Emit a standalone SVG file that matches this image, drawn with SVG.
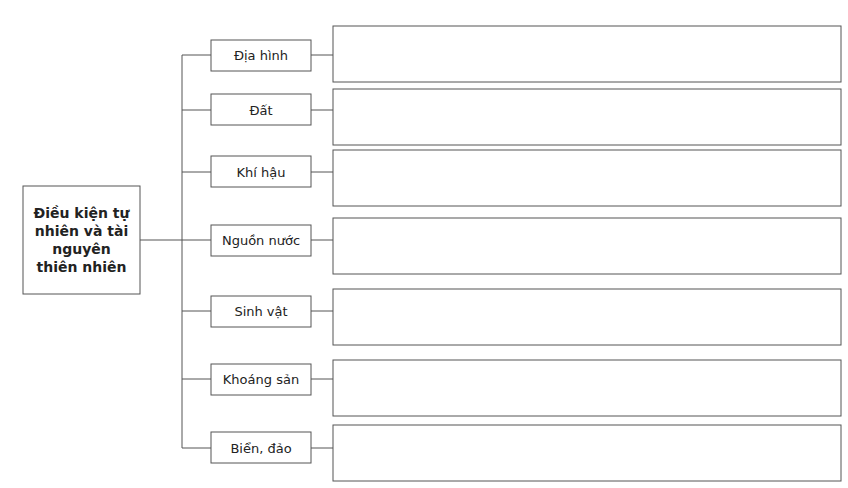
<svg xmlns="http://www.w3.org/2000/svg" width="848" height="488" viewBox="0 0 848 488">
<style>
rect{fill:#fff;stroke:#555;stroke-width:1}
line{stroke:#555;stroke-width:1}
text{font-family:"DejaVu Sans",sans-serif;font-size:13px;fill:#222;text-anchor:middle}
.b{font-weight:bold;font-size:14px}
</style>
<rect width="848" height="488" style="stroke:none"/>
<g id="connectors">
<line x1="140" y1="240" x2="182" y2="240"/>
<line x1="182" y1="55" x2="182" y2="448"/>
<line x1="182" y1="55" x2="211" y2="55"/><line x1="311" y1="55" x2="333" y2="55"/>
<line x1="182" y1="110" x2="211" y2="110"/><line x1="311" y1="110" x2="333" y2="110"/>
<line x1="182" y1="172" x2="211" y2="172"/><line x1="311" y1="172" x2="333" y2="172"/>
<line x1="182" y1="240" x2="211" y2="240"/><line x1="311" y1="240" x2="333" y2="240"/>
<line x1="182" y1="311" x2="211" y2="311"/><line x1="311" y1="311" x2="333" y2="311"/>
<line x1="182" y1="379" x2="211" y2="379"/><line x1="311" y1="379" x2="333" y2="379"/>
<line x1="182" y1="448" x2="211" y2="448"/><line x1="311" y1="448" x2="333" y2="448"/>
</g>
<g id="main"><rect x="23" y="186" width="117" height="108"/>
<text class="b" x="81.5" y="218">Điều kiện tự</text>
<text class="b" x="81.5" y="236">nhiên và tài</text>
<text class="b" x="81.5" y="254">nguyên</text>
<text class="b" x="81.5" y="272">thiên nhiên</text></g>
<g id="n1"><rect x="211" y="40" width="100" height="31"/><text x="261" y="60">Địa hình</text></g>
<g id="n2"><rect x="211" y="94" width="100" height="31"/><text x="261" y="115">Đất</text></g>
<g id="n3"><rect x="211" y="156" width="100" height="31"/><text x="261" y="177">Khí hậu</text></g>
<g id="n4"><rect x="211" y="225" width="100" height="31"/><text x="261" y="245">Nguồn nước</text></g>
<g id="n5"><rect x="211" y="296" width="100" height="31"/><text x="261" y="316">Sinh vật</text></g>
<g id="n6"><rect x="211" y="364" width="100" height="31"/><text x="261" y="384">Khoáng sản</text></g>
<g id="n7"><rect x="211" y="432" width="100" height="31"/><text x="261" y="453">Biển, đảo</text></g>
<g id="b1"><rect x="333" y="26" width="508" height="56"/></g>
<g id="b2"><rect x="333" y="89" width="508" height="56"/></g>
<g id="b3"><rect x="333" y="150" width="508" height="56"/></g>
<g id="b4"><rect x="333" y="218" width="508" height="56"/></g>
<g id="b5"><rect x="333" y="289" width="508" height="56"/></g>
<g id="b6"><rect x="333" y="360" width="508" height="56"/></g>
<g id="b7"><rect x="333" y="425" width="508" height="56"/></g>
</svg>
